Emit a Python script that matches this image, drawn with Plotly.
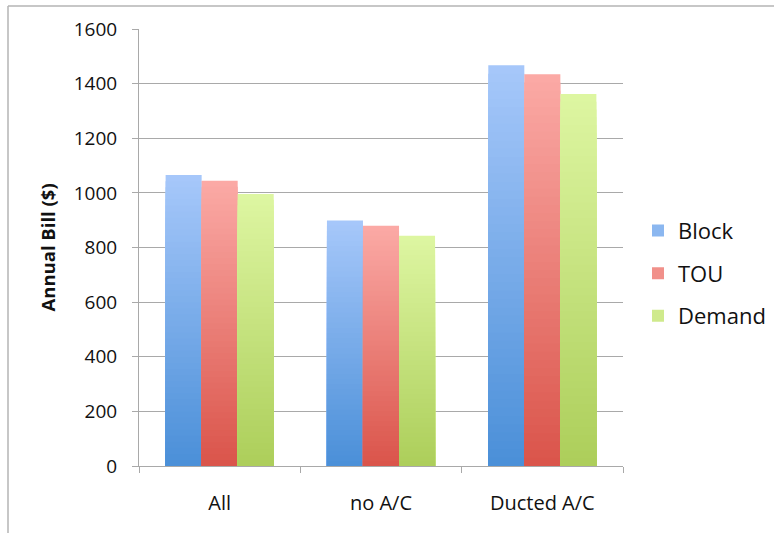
import plotly.graph_objects as go

# Annual bill by household type under three tariff structures
categories = ["All", "no A/C", "Ducted A/C"]
series_names = ["Block", "TOU", "Demand"]
block = [1065, 899, 1467]
tou = [1044, 880, 1434]
demand = [996, 843, 1362]
y_ticks = [0, 200, 400, 600, 800, 1000, 1200, 1400, 1600]

series_values = [block, tou, demand]
# (top colour, bottom colour) for the vertical fade of each series
series_colors = [
    ((167, 200, 250), (74, 143, 216)),
    ((251, 170, 166), (218, 84, 74)),
    ((222, 246, 162), (172, 206, 90)),
]

STEPS = 48
LEGEND_STEP = 14
GRID = "#a9a9a9"
FONT = "Open Sans, Lato, sans-serif"


def mix(top, bottom, t):
    r, g, b = (round(bottom[i] + (top[i] - bottom[i]) * t) for i in range(3))
    return f"rgb({r},{g},{b})"


fig = go.Figure()
for name, values, (top, bottom) in zip(series_names, series_values, series_colors):
    # overlapping bars, each shorter and darker, give the fade from top to bottom
    for k in range(STEPS):
        frac = (STEPS - k) / STEPS
        colour = mix(top, bottom, frac - 0.5 / STEPS)
        fig.add_trace(go.Bar(
            x=categories,
            y=[v * frac for v in values],
            name=name,
            offsetgroup=name,
            legendgroup=name,
            showlegend=(k == LEGEND_STEP),
            marker=dict(color=colour, line=dict(width=0)),
            hoverinfo="skip" if k else "x+y+name",
        ))

fig.update_layout(
    width=774,
    height=533,
    autosize=False,
    margin=dict(l=139, r=151, t=29, b=67, autoexpand=False),
    paper_bgcolor="white",
    plot_bgcolor="white",
    barmode="group",
    bargap=0.33,
    bargroupgap=0,
    font=dict(family=FONT, color="#111111"),
    legend=dict(
        x=1.031, xanchor="left",
        y=0.441, yanchor="middle",
        traceorder="grouped",
        tracegroupgap=11,
        font=dict(size=22, family=FONT, color="#111111"),
        bgcolor="rgba(0,0,0,0)",
    ),
    xaxis=dict(
        type="category",
        showline=True, linecolor=GRID, linewidth=1,
        ticks="outside", tickson="boundaries", ticklen=6, tickcolor=GRID,
        tickfont=dict(size=20, family=FONT, color="#111111"),
        ticklabelstandoff=19,
        showgrid=False,
    ),
    yaxis=dict(
        range=[0, 1600],
        tickvals=y_ticks,
        showline=True, linecolor=GRID, linewidth=1,
        ticks="outside", ticklen=6, tickcolor=GRID,
        showgrid=True, gridcolor=GRID, gridwidth=1,
        zeroline=False,
        tickfont=dict(size=19, family=FONT, color="#111111"),
        ticklabelstandoff=11,
    ),
    annotations=[dict(
        text="<b>Annual Bill ($)</b>",
        xref="paper", yref="paper",
        x=(47 - 139) / 484, y=0.5,
        xanchor="center", yanchor="middle",
        textangle=-90, showarrow=False,
        font=dict(size=18.5, family=FONT, color="#111111"),
    )],
    shapes=[
        # outer chart frame (top and left edges)
        dict(type="line", xref="paper", yref="paper",
             x0=(8 - 139) / 484, x1=(780 - 139) / 484,
             y0=(466 - 6) / 437, y1=(466 - 6) / 437,
             line=dict(color="#b5b5b5", width=1.5)),
        dict(type="line", xref="paper", yref="paper",
             x0=(8 - 139) / 484, x1=(8 - 139) / 484,
             y0=(466 - 6) / 437, y1=(466 - 540) / 437,
             line=dict(color="#b5b5b5", width=1.5)),
    ],
)

fig.write_html("out.html")
